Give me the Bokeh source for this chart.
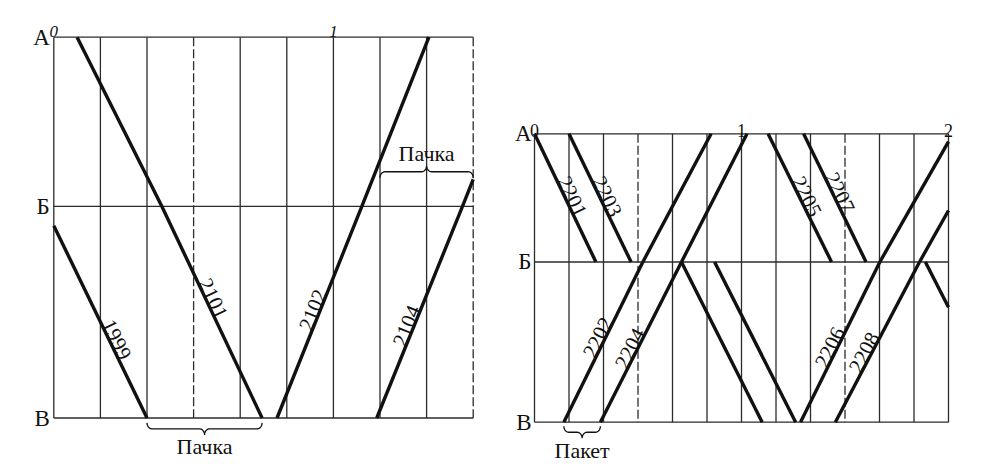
import math
import numpy as np
from bokeh.plotting import figure
from bokeh.models import Range1d
from bokeh.core.properties import value
from bokeh.embed import file_html
from bokeh.resources import INLINE

nan = float("nan")

# Stations of the section, km from А
STATIONS = ["А", "Б", "В"]
STATION_KM = [0, 12, 27]

# Schedule 1: "pachka" (bundle) of trains, times in minutes from 0 h
G1_HOURS = ["0", "1"]
G1_SPAN = 90
G1_TRAINS = ["1999", "2101", "2102", "2104"]
G1_AT_A = [-20.2, 5.0, 80.5, 102.1]
G1_B_ARR = [-2.0, 23.2, 66.1, 87.7]
G1_B_DEP = [-2.0, 23.2, 66.1, 87.7]
G1_AT_V = [20.0, 44.7, 47.9, 69.3]
G1_LABEL_KM = [21.65, 18.74, 19.52, 20.65]
G1_BRACE_TEXT = ["Пачка", "Пачка"]
G1_BRACE_T0 = [20.0, 70.0]
G1_BRACE_T1 = [44.7, 90.0]
G1_BRACE_KM = [27.77, 9.54]
G1_BRACE_DIR = [1, -1]

# Schedule 2: "paket" (packet) of trains with crossing at Б
G2_HOURS = ["0", "1", "2"]
G2_SPAN = 120
G2_TRAINS = ["2201", "2203", "2205", "2207", "2202", "2204", "2206", "2208"]
G2_AT_A = [0.0, 10.0, 67.7, 78.0, 51.2, 61.6, 121.3, 132.5]
G2_B_ARR = [17.8, 28.0, 86.1, 96.1, 31.4, 42.6, 100.1, 111.6]
G2_B_DEP = [42.6, 52.2, 113.3, nan, 31.4, 42.6, 100.1, 111.6]
G2_AT_V = [66.0, 75.7, 137.0, nan, 8.5, 19.1, 77.1, 87.2]
G2_LABEL_KM = [6.15, 6.15, 6.15, 5.78, 19.35, 20.38, 20.29, 20.76]
G2_BRACE_TEXT = ["Пакет"]
G2_BRACE_T0 = [8.5]
G2_BRACE_T1 = [19.1]
G2_BRACE_KM = [27.94]
G2_BRACE_DIR = [1]

DASHED_MINUTES = [30, 90]
SERIF = "Liberation Serif"
INK = "#111111"
GRID_INK = "#2b2b2b"
W, H = 986, 466


def train_segments(num, t_a, t_b_arr, t_b_dep, t_v):
    km_a, km_b, km_v = STATION_KM
    if int(num) % 2 == 1:  # odd: А -> В
        segs = [(t_a, km_a, t_b_arr, km_b), (t_b_dep, km_b, t_v, km_v)]
    else:                  # even: В -> А
        segs = [(t_v, km_v, t_b_arr, km_b), (t_b_dep, km_b, t_a, km_a)]
    return [s for s in segs if not any(math.isnan(v) for v in s)]


def clip_segment(seg, lo, hi):
    t0, k0, t1, k1 = seg
    if t1 <= lo or t0 >= hi:
        return None
    def at(t):
        return k0 + (t - t0) / (t1 - t0) * (k1 - k0)
    a, b = max(t0, lo), min(t1, hi)
    return (a, at(a), b, at(b))


def brace_path(t0, t1, km, d, sx, sy, end_px=6.0, tip_px=6.0, curl_px=5.0, tipw_px=5.0):
    th = np.linspace(0, np.pi / 2, 9)
    r, h = curl_px / sx, end_px / sy
    tw, td = tipw_px / sx, tip_px / sy
    tm = (t0 + t1) / 2
    xs = np.concatenate([
        t0 + r - r * np.cos(th),
        tm - tw + tw * np.sin(th),
        tm + tw - tw * np.sin(th[::-1]),
        t1 - r + r * np.cos(th[::-1]),
    ])
    ys = np.concatenate([
        km - d * h + d * h * np.sin(th),
        km + d * td - d * td * np.cos(th),
        km + d * td - d * td * np.cos(th[::-1]),
        km - d * h + d * h * np.sin(th[::-1]),
    ])
    return list(xs), list(ys)


def panel_scale(x0, x1, y_a, y_v, span):
    sx = (x1 - x0) / span
    sy = (y_v - y_a) / STATION_KM[-1]
    xr = Range1d(-x0 / sx, (W - x0) / sx)
    yr = Range1d((H - y_a) / sy, -y_a / sy)
    return sx, sy, xr, yr


def draw_schedule(p, rn, sx, sy, span, hours, hour_style, hour_size, hour_gap, letter_gap,
                  trains, at_a, b_arr, b_dep, at_v, label_km,
                  brace_text, brace_t0, brace_t1, brace_km, brace_dir):
    kw = dict(x_range_name=rn, y_range_name=rn)
    top, bot = STATION_KM[0], STATION_KM[-1]

    # time grid: 10-minute verticals, half-hour marks dashed
    minutes = np.arange(0, span + 1, 10)
    solid = [m for m in minutes if m not in DASHED_MINUTES]
    dashed = [m for m in minutes if m in DASHED_MINUTES]
    p.segment(x0=solid, y0=[top] * len(solid), x1=solid, y1=[bot] * len(solid),
              line_color=GRID_INK, line_width=1.3, **kw)
    p.segment(x0=dashed, y0=[top] * len(dashed), x1=dashed, y1=[bot] * len(dashed),
              line_color=GRID_INK, line_width=1.3, line_dash="9 3", **kw)
    p.segment(x0=[0] * len(STATION_KM), y0=STATION_KM, x1=[span] * len(STATION_KM), y1=STATION_KM,
              line_color=GRID_INK, line_width=1.3, **kw)

    # station names and hour marks
    p.text(x=[0] * len(STATIONS), y=STATION_KM, text=STATIONS, x_offset=-letter_gap,
           text_font=value(SERIF), text_font_size="23px", text_align="right",
           text_baseline="middle", text_color=INK, **kw)
    hx = [60 * i for i in range(len(hours))]
    p.text(x=hx, y=[top] * len(hx), text=hours, y_offset=-hour_gap,
           text_font=value(SERIF), text_font_size=hour_size, text_font_style=value(hour_style),
           text_align="center", text_baseline="alphabetic", text_color=INK, **kw)

    # train paths, cut at the edges of the time window
    xs, ys = [], []
    lx, ly, lang = [], [], []
    for i, num in enumerate(trains):
        segs = train_segments(num, at_a[i], b_arr[i], b_dep[i], at_v[i])
        for seg in segs:
            c = clip_segment(seg, 0, span)
            if c is not None:
                xs.append([c[0], c[2]])
                ys.append([c[1], c[3]])
        km = label_km[i]
        for (t0, k0, t1, k1) in segs:
            if min(k0, k1) <= km <= max(k0, k1):
                f = (km - k0) / (k1 - k0)
                lx.append(t0 + f * (t1 - t0))
                ly.append(km)
                lang.append(math.atan2(-(k1 - k0) * sy, (t1 - t0) * sx))
                break
    p.multi_line(xs=xs, ys=ys, line_color=INK, line_width=3.4, **kw)
    p.text(x=lx, y=ly, text=list(trains), angle=lang, text_font=value(SERIF),
           text_font_size="21px", text_align="center", text_baseline="bottom",
           text_color=INK, **kw)

    # braces marking the bundle / packet
    bx, by, tx, ty = [], [], [], []
    for t0, t1, km, d in zip(brace_t0, brace_t1, brace_km, brace_dir):
        px_, py_ = brace_path(t0, t1, km, d, sx, sy)
        bx.append(px_)
        by.append(py_)
        tx.append((t0 + t1) / 2)
        ty.append(km + d * 18.0 / sy)
    p.multi_line(xs=bx, ys=by, line_color=INK, line_width=1.3, **kw)
    p.text(x=tx, y=ty, text=list(brace_text), text_font=value(SERIF), text_font_size="22px",
           text_align="center", text_baseline="middle", text_color=INK, **kw)


sx1, sy1, xr1, yr1 = panel_scale(53.3, 472.7, 36.7, 417.5, G1_SPAN)
sx2, sy2, xr2, yr2 = panel_scale(534.0, 948.0, 133.3, 421.7, G2_SPAN)

p = figure(width=W, height=H, x_range=xr1, y_range=yr1, output_backend="svg",
           toolbar_location=None, x_axis_location=None, y_axis_location=None,
           min_border=0)
p.extra_x_ranges = {"g2": xr2}
p.extra_y_ranges = {"g2": yr2}
p.outline_line_color = None
p.background_fill_color = "white"
p.border_fill_color = "white"
p.xgrid.visible = False
p.ygrid.visible = False

draw_schedule(p, "default", sx1, sy1, G1_SPAN, G1_HOURS, "italic", "17px", 6, 4,
              G1_TRAINS, G1_AT_A, G1_B_ARR, G1_B_DEP, G1_AT_V, G1_LABEL_KM,
              G1_BRACE_TEXT, G1_BRACE_T0, G1_BRACE_T1, G1_BRACE_KM, G1_BRACE_DIR)
draw_schedule(p, "g2", sx2, sy2, G2_SPAN, G2_HOURS, "normal", "18px", 3, 3,
              G2_TRAINS, G2_AT_A, G2_B_ARR, G2_B_DEP, G2_AT_V, G2_LABEL_KM,
              G2_BRACE_TEXT, G2_BRACE_T0, G2_BRACE_T1, G2_BRACE_KM, G2_BRACE_DIR)

open("out.html", "w").write(file_html(p, INLINE))
